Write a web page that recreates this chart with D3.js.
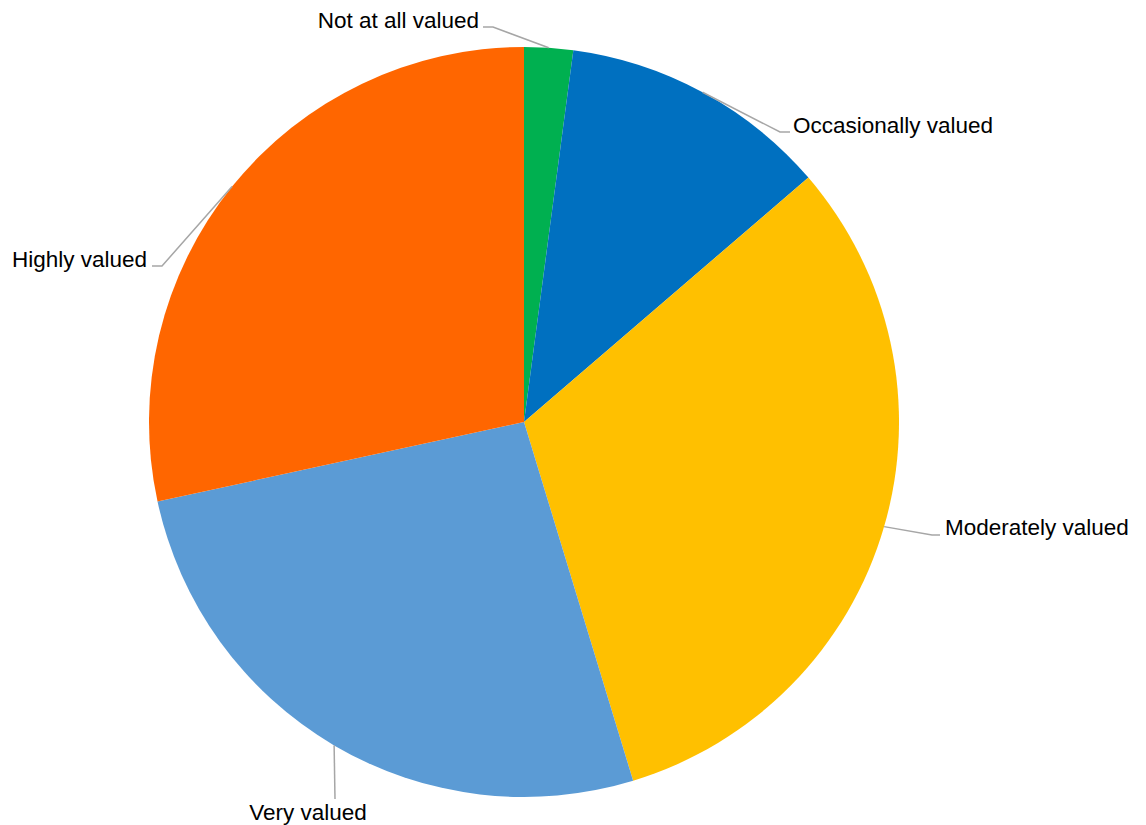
<!DOCTYPE html>
<html>
<head>
<meta charset="utf-8">
<script src="https://cdn.jsdelivr.net/npm/d3@7"></script>
<style>
  html, body { margin: 0; padding: 0; background: #fff; }
  svg { display: block; }
  text { font-family: "Liberation Sans", Arial, sans-serif; font-size: 22.5px; fill: #000; }
</style>
</head>
<body>
<svg id="chart" width="1146" height="825"></svg>
<script>
// Data
const categories = ["Not at all valued", "Occasionally valued", "Moderately valued", "Very valued", "Highly valued"];
const values = [2.1, 11.6, 31.6, 26.3, 28.4];
const colors = ["#00B050", "#0070C0", "#FFC000", "#5B9BD5", "#FF6600"];

// Label layout (elbow point and text anchor), in page coordinates
const labelLayout = [
  { elbow: [493, 27], end: [483, 27], text: [479, 28], anchor: "end" },
  { elbow: [780, 132], end: [790, 132], text: [793, 133], anchor: "start" },
  { elbow: [932, 535], end: [940, 535], text: [945, 535], anchor: "start" },
  { elbow: null, end: [335, 799], text: [308, 820], anchor: "middle" },
  { elbow: [162, 266], end: [152, 266], text: [147, 267], anchor: "end" }
];

const cx = 524, cy = 422, R = 375;
const svg = d3.select("#chart");
const g = svg.append("g").attr("transform", `translate(${cx},${cy})`);

const pie = d3.pie().sort(null).value(d => d.value).startAngle(0).endAngle(2 * Math.PI);
const data = categories.map((c, i) => ({ name: c, value: values[i], color: colors[i] }));
const arcs = pie(data);
const arc = d3.arc().innerRadius(0).outerRadius(R);

g.selectAll("path.slice").data(arcs).enter().append("path")
  .attr("class", "slice")
  .attr("d", arc)
  .attr("fill", d => d.data.color);

// Leader lines and labels
arcs.forEach((d, i) => {
  const mid = (d.startAngle + d.endAngle) / 2;
  const sx = cx + R * Math.sin(mid), sy = cy - R * Math.cos(mid);
  const L = labelLayout[i];
  const pts = [[sx, sy]];
  if (L.elbow) pts.push(L.elbow);
  pts.push(L.end);
  svg.append("path")
    .attr("d", d3.line()(pts))
    .attr("fill", "none")
    .attr("stroke", "#A6A6A6")
    .attr("stroke-width", 1.5);
  svg.append("text")
    .attr("x", L.text[0]).attr("y", L.text[1])
    .attr("text-anchor", L.anchor)
    .text(d.data.name);
});
</script>
</body>
</html>
